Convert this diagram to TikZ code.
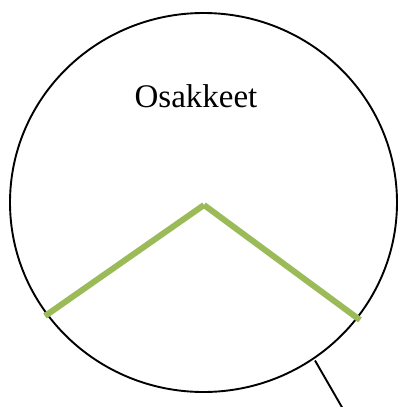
\documentclass[tikz,border=0pt]{standalone}
\usepackage{fontspec}
\setmainfont{Liberation Serif}
\usetikzlibrary{shapes.geometric}
\definecolor{leafgreen}{HTML}{9BBB59}
\tikzset{
  outline/.style={draw=black, line width=1.9pt},
  greenline/.style={draw=leafgreen, line width=6pt},
}
\begin{document}
\begin{tikzpicture}[x=1pt,y=-1pt]
\useasboundingbox (0,0) rectangle (398,407);
\node[ellipse, outline, minimum width=387pt, minimum height=379pt, inner sep=0pt] (circ) at (203.5,202.5) {};
\coordinate (apex) at (204,205);
\coordinate (gl) at (45,316);
\coordinate (gr) at (360,320);
\coordinate (tail) at (343,409);
\draw[greenline] (apex) -- (gl);
\draw[greenline] (apex) -- (gr);
\draw[outline] (315,360.5) -- (tail);
\node[font=\fontsize{33}{36}\selectfont, anchor=base] (lbl) at (196,107) {Osakkeet};
\end{tikzpicture}
\end{document}
